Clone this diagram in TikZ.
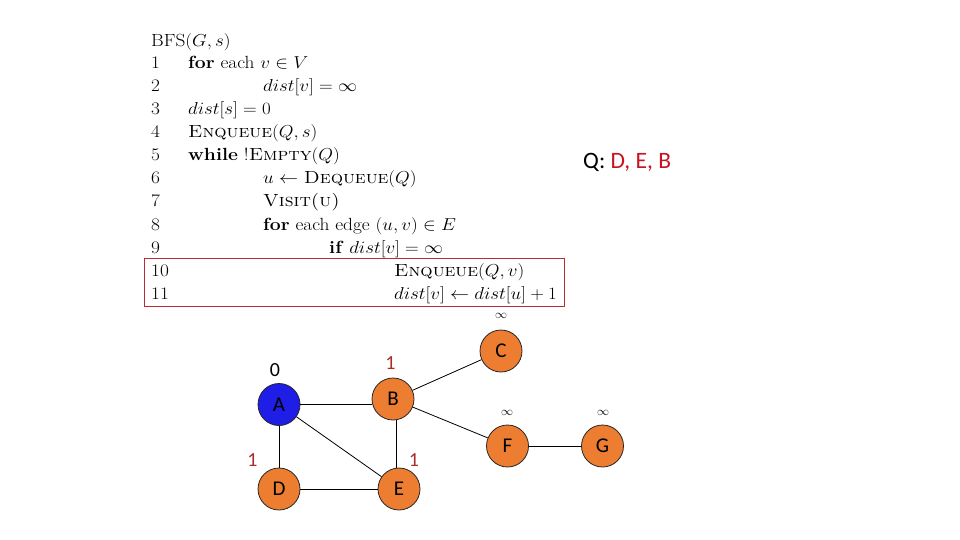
\documentclass[tikz,border=0pt]{standalone}
\usepackage{fontspec}
\usepackage{amsmath}
\usepackage{graphicx}
\usetikzlibrary{calc}
\newfontfamily\calib{Carlito}
\definecolor{boxred}{RGB}{185,45,55}
\definecolor{qred}{RGB}{200,20,30}
\definecolor{lblred}{RGB}{170,45,45}
\definecolor{nodeorange}{RGB}{237,125,49}
\definecolor{nodeblue}{RGB}{30,30,230}
\newcommand\pmbsc[1]{{\addfontfeatures{FakeBold=1.6}\textsc{#1}}}
\newcommand\codetxt[1]{\scalebox{1.1}[1]{#1}}
\begin{document}
\begin{tikzpicture}[x=1pt,y=-1pt,
  code/.style={anchor=base west,inner sep=0pt,font=\fontsize{17.6}{20}\selectfont},
  vert/.style={circle,draw=black!85,line width=0.8pt,minimum size=42pt,inner sep=0pt,font=\calib\fontsize{21}{24}\selectfont,fill=nodeorange},
  vstart/.style={vert,fill=nodeblue},
  dlbl/.style={inner sep=0pt,font=\calib\fontsize{20}{24}\selectfont},
  inflbl/.style={inner sep=0pt,font=\fontsize{12.5}{14}\selectfont},
  edge/.style={draw=black,line width=0.8pt}]
\useasboundingbox (0,0) rectangle (960,540);
% pseudocode
\node[code] (t0) at (151,46.7) {\codetxt{BFS$(G,s)$}};
\foreach \k in {1,...,11}{
  \node[code] (n\k) at (151,{68.5+(\k-1)*23.08}) {\codetxt{\k}};
}
\node[code] (c1) at (188,68.5) {\codetxt{\textbf{for} each $v \in V$}};
\node[code] (c2) at (263,91.6) {\codetxt{$dist[v] = \infty$}};
\node[code] (c3) at (188,114.7) {\codetxt{$dist[s] = 0$}};
\node[code] (c4) at (188,137.7) {\codetxt{\textsc{Enqueue}$(Q,s)$}};
\node[code] (c5) at (188,160.8) {\codetxt{\textbf{while} !\textsc{Empty}$(Q)$}};
\node[code] (c6) at (263,183.9) {\codetxt{$u \leftarrow$ \pmbsc{Dequeue}$(Q)$}};
\node[code] (c7) at (263,206.9) {\codetxt{\textsc{Visit(u)}}};
\node[code] (c8) at (263,230) {\codetxt{\textbf{for} each edge $(u,v) \in E$}};
\node[code] (c9) at (329,253.1) {\codetxt{\textbf{if} $dist[v] = \infty$}};
\node[code] (c10) at (394,276.2) {\codetxt{\textsc{Enqueue}$(Q,v)$}};
\node[code] (c11) at (394,299.3) {\codetxt{$dist[v] \leftarrow dist[u] + 1$}};
\draw[boxred,line width=1pt] (144.3,258.3) rectangle (564,306);
% queue
\node[anchor=base west,inner sep=0pt,font=\calib\fontsize{23.5}{27}\selectfont] (q) at (583,168) {Q: \textcolor{qred}{D, E, B}};
% graph
\node[vstart] (A) at (279,404.5) {A};
\node[vert] (B) at (393,399) {B};
\node[vert] (C) at (501,351) {C};
\node[vert] (D) at (279,489) {D};
\node[vert] (E) at (399,489) {E};
\node[vert] (F) at (507.5,446) {F};
\node[vert] (G) at (602.5,446) {G};
\path ($(B.south)!0.5!(E.north)$) coordinate (mBE);
\draw[edge] (A.east) -- (A.east -| B.west);
\draw[edge] (A) -- (D);
\draw[edge] (A) -- (E);
\draw[edge] (B.south -| mBE) -- (E.north -| mBE);
\draw[edge] (B) -- (C);
\draw[edge] (B) -- (F);
\draw[edge] (D) -- (E);
\draw[edge] (F) -- (G);
% distance labels
\node[dlbl] (lA) at (275,370) {0};
\node[dlbl,text=lblred] (lB) at (390.5,363) {1};
\node[dlbl,text=lblred] (lD) at (252.5,460) {1};
\node[dlbl,text=lblred] (lE) at (414,460) {1};
\node[inflbl] (lC) at (501,316) {$\infty$};
\node[inflbl] (lF) at (507,413) {$\infty$};
\node[inflbl] (lG) at (603,413) {$\infty$};
\end{tikzpicture}
\end{document}
